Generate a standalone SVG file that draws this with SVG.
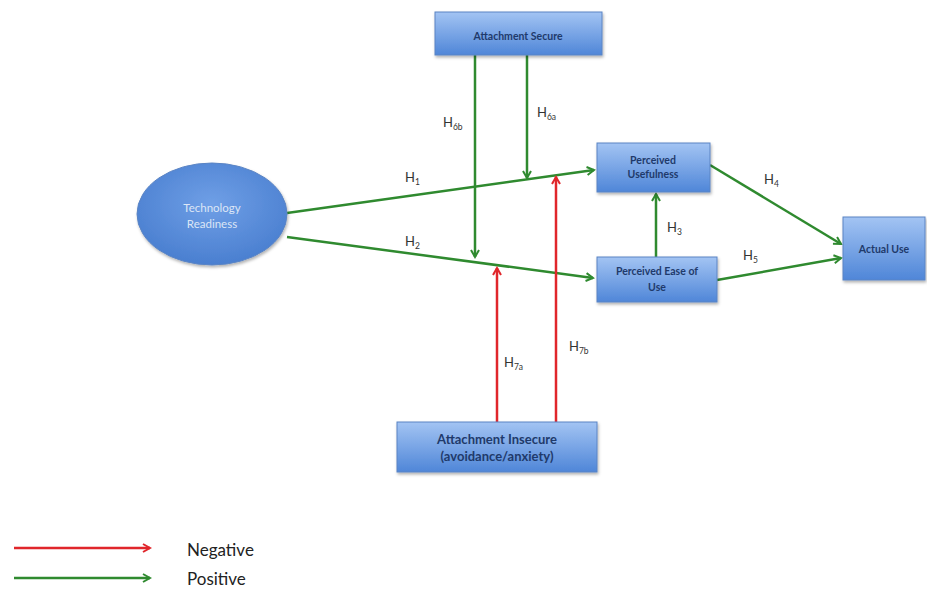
<svg xmlns="http://www.w3.org/2000/svg" width="927" height="592" viewBox="0 0 927 592">
<defs>
<linearGradient id="boxg" x1="0" y1="0" x2="0" y2="1">
<stop offset="0" stop-color="#a3c4f3"/>
<stop offset="1" stop-color="#4f86d8"/>
</linearGradient>
<radialGradient id="ellg" cx="0.5" cy="0.4" r="0.6">
<stop offset="0" stop-color="#6f9fe6"/>
<stop offset="1" stop-color="#4a7fd0"/>
</radialGradient>
<marker id="ag" markerWidth="10" markerHeight="10" refX="8" refY="5" orient="auto" markerUnits="userSpaceOnUse">
<path d="M1,1 L8,5 L1,9" fill="none" stroke="#2f8a2f" stroke-width="2"/>
</marker>
<marker id="ar" markerWidth="10" markerHeight="10" refX="8" refY="5" orient="auto" markerUnits="userSpaceOnUse">
<path d="M1,1 L8,5 L1,9" fill="none" stroke="#e0262b" stroke-width="2"/>
</marker>
<filter id="sh" x="-10%" y="-10%" width="130%" height="140%">
<feDropShadow dx="1" dy="2" stdDeviation="1.5" flood-color="#000" flood-opacity="0.3"/>
</filter>
</defs>
<style>
.box{fill:url(#boxg);stroke:#5a84c4;stroke-width:1;filter:url(#sh)}
.nt{font-family:"Lato","Open Sans",sans-serif;font-weight:bold;font-size:10.5px;fill:#1f3a6b;text-anchor:middle}
.big{font-size:13px}
.g{stroke:#2f8a2f;stroke-width:2.5;fill:none}
.r{stroke:#e0262b;stroke-width:2.5;fill:none}
.lb{font-family:"Lato","Open Sans",sans-serif;font-size:13px;fill:#333}
.sub{font-size:8.5px}
.lg{font-family:"Lato","Open Sans",sans-serif;font-size:17px;fill:#222}
</style>
<rect width="927" height="592" fill="#ffffff"/>
<g id="connectors">
<line class="g" x1="287" y1="213" x2="594" y2="170" marker-end="url(#ag)"/>
<line class="g" x1="287" y1="237" x2="593" y2="278" marker-end="url(#ag)"/>
<line class="g" x1="656" y1="257" x2="656" y2="194" marker-end="url(#ag)"/>
<line class="g" x1="710" y1="165" x2="841" y2="244" marker-end="url(#ag)"/>
<line class="g" x1="717" y1="280" x2="841" y2="258" marker-end="url(#ag)"/>
<line class="g" x1="475" y1="55" x2="475" y2="257" marker-end="url(#ag)"/>
<line class="g" x1="527" y1="55" x2="527" y2="178" marker-end="url(#ag)"/>
<line class="r" x1="497" y1="422" x2="497" y2="268" marker-end="url(#ar)"/>
<line class="r" x1="556" y1="422" x2="556" y2="177" marker-end="url(#ar)"/>
<text class="lb" x="405" y="182">H<tspan class="sub" dy="3">1</tspan></text>
<text class="lb" x="405" y="246">H<tspan class="sub" dy="3">2</tspan></text>
<text class="lb" x="667" y="232">H<tspan class="sub" dy="3">3</tspan></text>
<text class="lb" x="764" y="184">H<tspan class="sub" dy="3">4</tspan></text>
<text class="lb" x="743" y="260">H<tspan class="sub" dy="3">5</tspan></text>
<text class="lb" x="443" y="127">H<tspan class="sub" dy="3">6b</tspan></text>
<text class="lb" x="537" y="117">H<tspan class="sub" dy="3">6a</tspan></text>
<text class="lb" x="504" y="367">H<tspan class="sub" dy="3">7a</tspan></text>
<text class="lb" x="569" y="351">H<tspan class="sub" dy="3">7b</tspan></text>
</g>
<g id="tech-readiness">
<ellipse cx="212" cy="214" rx="75" ry="51" fill="url(#ellg)" stroke="#5a84c4" stroke-width="1" filter="url(#sh)"/>
<text x="212" y="212" font-family="Lato,'Open Sans',sans-serif" font-size="11.5px" fill="#dce6f6" text-anchor="middle">Technology</text>
<text x="212" y="228" font-family="Lato,'Open Sans',sans-serif" font-size="11.5px" fill="#dce6f6" text-anchor="middle">Readiness</text>
</g>
<g id="attachment-secure">
<rect class="box" x="435" y="12" width="167" height="43"/>
<text class="nt" x="518" y="40">Attachment Secure</text>
</g>
<g id="perceived-usefulness">
<rect class="box" x="597" y="143" width="113" height="49"/>
<text class="nt" x="653" y="164">Perceived</text>
<text class="nt" x="653" y="178">Usefulness</text>
</g>
<g id="perceived-ease">
<rect class="box" x="597" y="257" width="120" height="45"/>
<text class="nt" x="657" y="275">Perceived Ease of</text>
<text class="nt" x="657" y="291">Use</text>
</g>
<g id="actual-use">
<rect class="box" x="843" y="217" width="82" height="63"/>
<text class="nt" x="884" y="253">Actual Use</text>
</g>
<g id="attachment-insecure">
<rect class="box" x="397" y="422" width="200" height="50"/>
<text class="nt big" x="497" y="444">Attachment Insecure</text>
<text class="nt big" x="497" y="461">(avoidance/anxiety)</text>
</g>
<g id="legend">
<line class="r" x1="14" y1="548" x2="150" y2="548" marker-end="url(#ar)"/>
<line class="g" x1="14" y1="578" x2="150" y2="578" marker-end="url(#ag)"/>
<text class="lg" x="187" y="556">Negative</text>
<text class="lg" x="187" y="585">Positive</text>
</g>
</svg>
